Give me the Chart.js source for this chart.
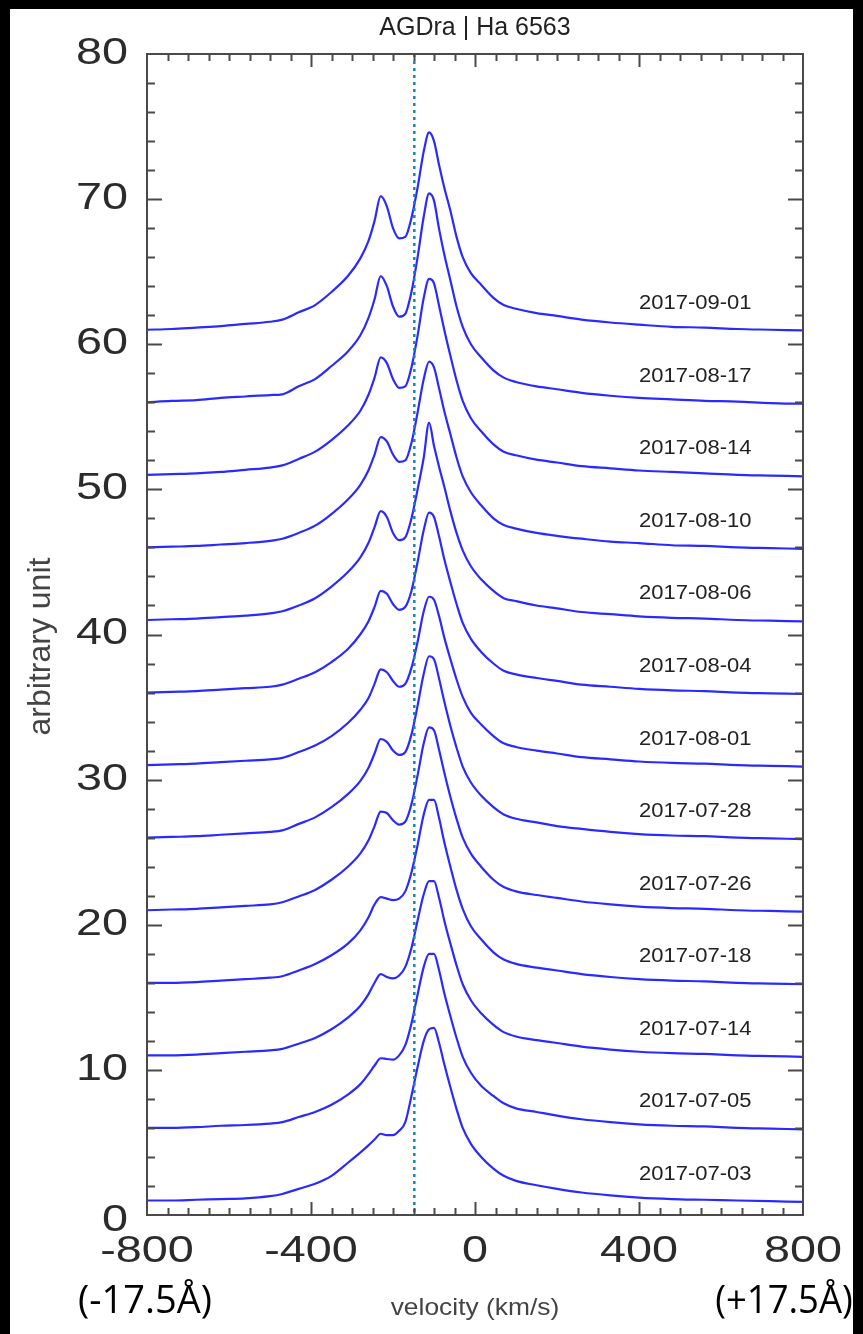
<!DOCTYPE html>
<html>
<head>
<meta charset="utf-8">
<title>AGDra | Ha 6563</title>
<script src="https://cdn.jsdelivr.net/npm/chart.js@4.4.1/dist/chart.umd.min.js"></script>
<style>
  html, body { margin: 0; padding: 0; background: #000; }
  canvas { display: block; }
</style>
</head>
<body>
<canvas id="chart" width="863" height="1334" style="width:863px;height:1334px"></canvas>
<script>
// ===== data =====
// velocity grid (km/s), shared by every spectrum
const velocity = [-800, -740, -680, -620, -560, -500,
  -470, -430, -390, -350, -310,
  -280, -260, -245, -230, -215,
  -200, -185, -170, -155, -140,
  -125, -112, -100, -88, -75,
  -60, -45, -30, -10, 15,
  45, 70, 100, 150, 200,
  260, 330, 400, 480, 560,
  640, 720, 800];

// observation dates, bottom spectrum first
const dates = ['2017-07-03', '2017-07-05', '2017-07-14', '2017-07-18', '2017-07-26',
  '2017-07-28', '2017-08-01', '2017-08-04', '2017-08-06', '2017-08-10',
  '2017-08-14', '2017-08-17', '2017-09-01'];

// vertical shift of each spectrum (arbitrary unit)
const offsets = [1, 6, 11, 16, 21, 26, 31, 36, 41, 46, 51, 56, 61];

// line profiles, height above each spectrum's offset
const p0703 = [0.0, 0.0, 0.05, 0.1, 0.15, 0.3, 0.45, 0.8, 1.15, 1.7, 2.6, 3.3, 3.8, 4.2, 4.6, 4.5, 4.5, 4.8, 5.4, 7.2, 9.2, 11.0, 11.8, 11.9, 10.9, 9.4, 7.8, 6.3, 5.0, 3.9, 3.0, 2.2, 1.7, 1.35, 1.05, 0.8, 0.55, 0.35, 0.2, 0.1, 0.05, 0.0, -0.05, -0.1];
const p0705 = [0.0, 0.0, 0.05, 0.15, 0.2, 0.3, 0.4, 0.75, 1.1, 1.6, 2.3, 3.0, 3.7, 4.3, 4.8, 4.75, 4.7, 5.0, 5.7, 7.2, 9.2, 11.1, 12.0, 12.0, 10.9, 9.3, 7.7, 6.2, 4.9, 3.8, 2.9, 2.2, 1.7, 1.35, 1.1, 0.85, 0.6, 0.4, 0.25, 0.15, 0.1, 0.0, -0.05, -0.1];
const p0714 = [0.0, 0.0, 0.05, 0.15, 0.25, 0.35, 0.45, 0.8, 1.2, 1.8, 2.6, 3.4, 4.2, 5.0, 5.6, 5.4, 5.3, 5.5, 6.1, 7.4, 9.3, 11.1, 12.0, 12.0, 10.9, 9.3, 7.7, 6.2, 4.9, 3.8, 2.9, 2.1, 1.6, 1.3, 1.05, 0.85, 0.6, 0.4, 0.25, 0.15, 0.1, 0.0, -0.05, -0.1];
const p0718 = [0.0, 0.0, 0.05, 0.15, 0.25, 0.35, 0.45, 0.85, 1.3, 1.9, 2.7, 3.6, 4.5, 5.4, 5.9, 5.8, 5.7, 5.8, 6.3, 7.6, 9.5, 11.6, 12.6, 12.6, 11.4, 9.7, 8.0, 6.4, 5.1, 3.9, 3.0, 2.1, 1.6, 1.3, 1.05, 0.85, 0.6, 0.4, 0.25, 0.15, 0.1, 0.0, -0.05, -0.1];
const p0726 = [0.0, 0.05, 0.1, 0.2, 0.3, 0.4, 0.55, 0.95, 1.4, 2.1, 3.0, 3.9, 4.8, 5.8, 6.8, 6.7, 6.2, 5.9, 6.1, 7.3, 9.3, 11.5, 12.6, 12.4, 11.1, 9.5, 7.8, 6.3, 5.0, 3.9, 3.0, 2.1, 1.6, 1.3, 1.05, 0.85, 0.6, 0.4, 0.25, 0.15, 0.1, 0.0, -0.05, -0.1];
const p0728 = [0.0, 0.05, 0.1, 0.2, 0.3, 0.4, 0.5, 0.95, 1.4, 2.1, 3.0, 3.9, 4.8, 5.8, 6.8, 6.6, 6.0, 5.7, 5.9, 7.1, 9.1, 11.3, 12.5, 12.3, 11.0, 9.4, 7.7, 6.2, 4.9, 3.8, 2.9, 2.1, 1.6, 1.3, 1.05, 0.8, 0.6, 0.4, 0.25, 0.15, 0.1, 0.0, -0.05, -0.1];
const p0801 = [0.0, 0.05, 0.1, 0.2, 0.3, 0.4, 0.5, 0.9, 1.35, 2.0, 2.9, 3.8, 4.6, 5.6, 6.6, 6.4, 5.8, 5.4, 5.6, 6.7, 8.5, 10.6, 11.6, 11.4, 10.3, 8.8, 7.3, 5.9, 4.7, 3.6, 2.8, 2.0, 1.5, 1.25, 1.0, 0.8, 0.55, 0.4, 0.25, 0.15, 0.1, 0.0, -0.05, -0.1];
const p0804 = [0.0, 0.05, 0.1, 0.2, 0.3, 0.4, 0.55, 0.95, 1.4, 2.1, 3.0, 4.0, 4.9, 5.9, 7.0, 6.8, 6.1, 5.7, 5.9, 7.0, 9.0, 11.2, 12.4, 12.1, 10.8, 9.2, 7.6, 6.1, 4.8, 3.7, 2.8, 2.0, 1.5, 1.25, 1.0, 0.8, 0.55, 0.4, 0.25, 0.15, 0.1, 0.0, -0.05, -0.1];
const p0806 = [0.0, 0.05, 0.1, 0.2, 0.3, 0.45, 0.6, 1.0, 1.5, 2.3, 3.3, 4.3, 5.3, 6.4, 7.5, 7.1, 6.0, 5.5, 5.7, 7.0, 9.0, 11.2, 13.6, 12.0, 10.6, 9.2, 7.5, 6.0, 4.8, 3.7, 2.8, 2.0, 1.5, 1.3, 1.0, 0.8, 0.55, 0.4, 0.25, 0.15, 0.1, 0.0, -0.05, -0.1];
const p0810 = [0.0, 0.05, 0.1, 0.2, 0.3, 0.45, 0.6, 1.0, 1.5, 2.3, 3.3, 4.3, 5.3, 6.4, 7.6, 7.3, 6.4, 5.9, 6.0, 7.2, 9.3, 11.6, 12.8, 12.4, 11.0, 9.4, 7.8, 6.2, 4.9, 3.8, 2.9, 2.0, 1.55, 1.3, 1.0, 0.8, 0.6, 0.4, 0.3, 0.15, 0.1, 0.0, -0.05, -0.1];
const p0814 = [0.0, 0.05, 0.1, 0.2, 0.35, 0.5, 0.65, 1.1, 1.6, 2.4, 3.4, 4.4, 5.5, 6.7, 8.1, 7.7, 6.6, 6.0, 6.1, 7.4, 9.6, 12.2, 13.5, 13.2, 11.7, 10.0, 8.2, 6.5, 5.1, 3.9, 3.0, 2.1, 1.6, 1.35, 1.05, 0.85, 0.6, 0.45, 0.3, 0.2, 0.1, 0.0, -0.05, -0.1];
const p0817 = [0.0, 0.1, 0.15, 0.3, 0.4, 0.5, 0.55, 1.1, 1.6, 2.5, 3.5, 4.6, 5.8, 7.1, 8.7, 8.0, 6.6, 5.9, 6.1, 7.6, 10.0, 12.8, 14.4, 13.9, 12.0, 10.2, 8.4, 6.6, 5.2, 4.0, 3.1, 2.2, 1.7, 1.4, 1.1, 0.9, 0.65, 0.45, 0.3, 0.2, 0.1, 0.05, -0.05, -0.1];
const p0901 = [0.0, 0.05, 0.15, 0.25, 0.4, 0.55, 0.7, 1.2, 1.7, 2.6, 3.7, 4.9, 6.1, 7.5, 9.2, 8.5, 7.0, 6.3, 6.4, 7.7, 9.8, 12.3, 13.6, 13.0, 11.4, 9.8, 8.2, 6.4, 5.0, 3.9, 3.1, 2.2, 1.7, 1.45, 1.15, 0.95, 0.7, 0.5, 0.35, 0.2, 0.15, 0.05, 0.0, -0.05];

const profiles = [p0703, p0705, p0714, p0718, p0726, p0728, p0801, p0804, p0806, p0810, p0814, p0817, p0901];

// dotted reference velocity (km/s)
const refVelocity = -148;

// axis labels
const xTickLabels = [-800, -400, 0, 400, 800];
const yTickLabels = [0, 10, 20, 30, 40, 50, 60, 70, 80];
const xMinorStep = 50;
const yMinorStep = 2;
const dateLabelX = 400;

// ===== helpers =====
function drawText(ctx, text, x, y, font, color, align, sx) {
    ctx.save();
    ctx.font = font;
    ctx.fillStyle = color;
    ctx.textAlign = align;
    ctx.textBaseline = 'middle';
    ctx.translate(x, y);
    ctx.scale(sx, 1);
    ctx.fillText(text, 0, 0);
    ctx.restore();
}

// background, frame, ticks and all text
const framePlugin = {
    id: 'framePlugin',
    beforeDraw(chart) {
        const ctx = chart.ctx;
        ctx.save();
        ctx.fillStyle = '#000';
        ctx.fillRect(0, 0, chart.width, chart.height);
        ctx.fillStyle = '#fff';
        ctx.fillRect(10, 9, 843, chart.height - 9);
        ctx.restore();
    },
    afterDatasetsDraw(chart) {
        const ctx = chart.ctx;
        const area = chart.chartArea;
        const xs = chart.scales.x;
        const ys = chart.scales.y;

        // dotted reference line
        ctx.save();
        ctx.strokeStyle = '#1486b8';
        ctx.lineWidth = 2.5;
        ctx.setLineDash([3, 4]);
        const rx = xs.getPixelForValue(refVelocity);
        ctx.beginPath();
        ctx.moveTo(rx, area.top);
        ctx.lineTo(rx, area.bottom);
        ctx.stroke();
        ctx.restore();

        // frame
        ctx.save();
        ctx.strokeStyle = '#4a4a4a';
        ctx.lineWidth = 2;
        ctx.strokeRect(area.left, area.top, area.right - area.left, area.bottom - area.top);

        // x ticks (bottom and top, inward)
        ctx.beginPath();
        for (let v = xs.min + xMinorStep; v < xs.max; v += xMinorStep) {
            const px = Math.round(xs.getPixelForValue(v)) + 0.5;
            const len = xTickLabels.includes(v) ? 13 : 7;
            ctx.moveTo(px, area.bottom);
            ctx.lineTo(px, area.bottom - len);
            ctx.moveTo(px, area.top);
            ctx.lineTo(px, area.top + len);
        }
        // y ticks (left and right, inward)
        for (let v = ys.min + yMinorStep; v < ys.max; v += yMinorStep) {
            const py = Math.round(ys.getPixelForValue(v)) + 0.5;
            const len = yTickLabels.includes(v) ? 15 : 8;
            ctx.moveTo(area.left, py);
            ctx.lineTo(area.left + len, py);
            ctx.moveTo(area.right, py);
            ctx.lineTo(area.right - len, py);
        }
        ctx.stroke();
        ctx.restore();

        // tick labels
        const tickFont = '36px "Liberation Sans", Arial, sans-serif';
        yTickLabels.forEach(v => {
            const py = ys.getPixelForValue(v) + (v === 0 ? 6 : 0);
            drawText(ctx, String(v), 128, py, tickFont, '#2b2b2b', 'right', 1.3);
        });
        xTickLabels.forEach(v => {
            drawText(ctx, String(v), xs.getPixelForValue(v), 1252, tickFont, '#2b2b2b', 'center', 1.3);
        });

        // date labels next to each spectrum
        const dateFont = '20px "Liberation Sans", Arial, sans-serif';
        dates.forEach((d, i) => {
            drawText(ctx, d, xs.getPixelForValue(dateLabelX), ys.getPixelForValue(offsets[i] + 1.8),
                dateFont, '#222', 'left', 1.1);
        });

        // titles
        drawText(ctx, 'AGDra | Ha 6563', (area.left + area.right) / 2, 28,
            '25px "Liberation Sans", Arial, sans-serif', '#222', 'center', 1.0);
        drawText(ctx, 'velocity (km/s)', (area.left + area.right) / 2, 1308,
            '24px "Liberation Sans", Arial, sans-serif', '#444', 'center', 1.1);

        ctx.save();
        ctx.translate(41, (area.top + area.bottom) / 2 + 12);
        ctx.rotate(-Math.PI / 2);
        drawText(ctx, 'arbitrary unit', 0, 0, '32px "Liberation Sans", Arial, sans-serif', '#444', 'center', 1);
        ctx.restore();

        // wavelength notes under the axis ends
        drawText(ctx, '(-17.5Å)', 145, 1302, '38px "Open Sans", sans-serif', '#000', 'center', 1);
        drawText(ctx, '(+17.5Å)', 784, 1302, '38px "Open Sans", sans-serif', '#000', 'center', 0.96);
    }
};

// ===== chart =====
const datasets = profiles.map((p, i) => ({
    label: dates[i],
    data: velocity.map((v, j) => ({ x: v, y: p[j] + offsets[i] })),
    borderColor: '#2a2aff',
    borderWidth: 2.2,
    pointRadius: 0,
    cubicInterpolationMode: 'monotone',
    fill: false
}));

new Chart(document.getElementById('chart'), {
    type: 'line',
    data: { datasets },
    options: {
        responsive: false,
        animation: false,
        devicePixelRatio: 1,
        layout: { padding: { top: 54, right: 60, left: 0, bottom: 0 } },
        plugins: {
            legend: { display: false },
            tooltip: { enabled: false },
            title: { display: false }
        },
        scales: {
            x: {
                type: 'linear',
                min: -800,
                max: 800,
                grid: { display: false },
                border: { display: false },
                ticks: { display: false },
                afterFit(scale) { scale.height = 119; }
            },
            y: {
                type: 'linear',
                min: 0,
                max: 80,
                grid: { display: false },
                border: { display: false },
                ticks: { display: false },
                afterFit(scale) { scale.width = 147; }
            }
        }
    },
    plugins: [framePlugin]
});
</script>
</body>
</html>
